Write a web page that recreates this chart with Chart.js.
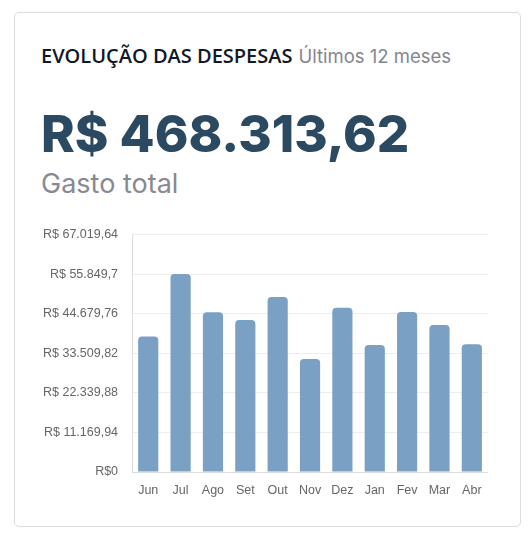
<!DOCTYPE html>
<html>
<head>
<meta charset="utf-8">
<script src="https://cdn.jsdelivr.net/npm/chart.js@4"></script>
<style>
  body { margin: 0; background: #fff; font-family: "Open Sans", sans-serif; }
  .card {
    position: absolute; left: 14px; top: 12px; width: 507px; height: 515px;
    border: 1px solid #dcdcdc; border-radius: 5px; box-sizing: border-box;
  }
  .head { position: absolute; left: 26px; top: 33px; white-space: nowrap; line-height: 20px; }
  .title { font-family: "Open Sans"; font-weight: 600; font-size: 20px; color: #111827; }
  .sub { font-family: "Inter"; font-size: 18.5px; color: #858590; margin-left: 6px; }
  .total { position: absolute; left: 26px; top: 95px; line-height: 51px; font-family: "Inter"; font-weight: 800; font-size: 51px; color: #2b4a61; }
  .label { position: absolute; left: 26px; top: 157px; line-height: 27px; font-family: "Inter"; font-size: 27px; color: #888890; }
  .chart { position: absolute; left: 14px; top: 200px; width: 459px; height: 288px; }
</style>
</head>
<body>
<div class="card">
  <div class="head"><span class="title">EVOLUÇÃO DAS DESPESAS</span><span class="sub">Últimos 12 meses</span></div>
  <div class="total">R$ 468.313,62</div>
  <div class="label">Gasto total</div>
  <div class="chart"><canvas id="despesasChart"></canvas></div>
</div>
<script>
const meses = ["Jun", "Jul", "Ago", "Set", "Out", "Nov", "Dez", "Jan", "Fev", "Mar", "Abr"];
const gastos = [38270, 55849.7, 45050, 42900, 49410, 31880, 46380, 35840, 45170, 41490, 36074.92];
const passo = 11169.94;
const tickLabels = ["R$0", "R$ 11.169,94", "R$ 22.339,88", "R$ 33.509,82", "R$ 44.679,76", "R$ 55.849,7", "R$ 67.019,64"];

const ctx = document.getElementById("despesasChart").getContext("2d");

new Chart(ctx, {
  type: "bar",
  data: {
    labels: meses,
    datasets: [{
      label: "Despesas",
      data: gastos,
      backgroundColor: "rgb(122,161,195)",
      borderRadius: 4,
      borderSkipped: "bottom",
      barPercentage: 0.78,
      categoryPercentage: 0.8
    }]
  },
  options: {
    responsive: true,
    maintainAspectRatio: false,
    animation: false,
    plugins: { legend: { display: false }, tooltip: { enabled: false } },
    scales: {
      x: {
        grid: { display: false },
        border: { color: "#ddd" },
        ticks: { color: "#666", font: { family: "Liberation Sans", size: 12.5 }, padding: 3 }
      },
      y: {
        min: 0,
        max: passo * 6,
        grid: { color: "#eee", drawTicks: false },
        border: { color: "#ddd" },
        ticks: {
          stepSize: passo,
          color: "#666",
          padding: 14,
          font: { family: "Liberation Sans", size: 12.5 },
          callback: (v, i) => tickLabels[i]
        }
      }
    }
  }
});
</script>
</body>
</html>
